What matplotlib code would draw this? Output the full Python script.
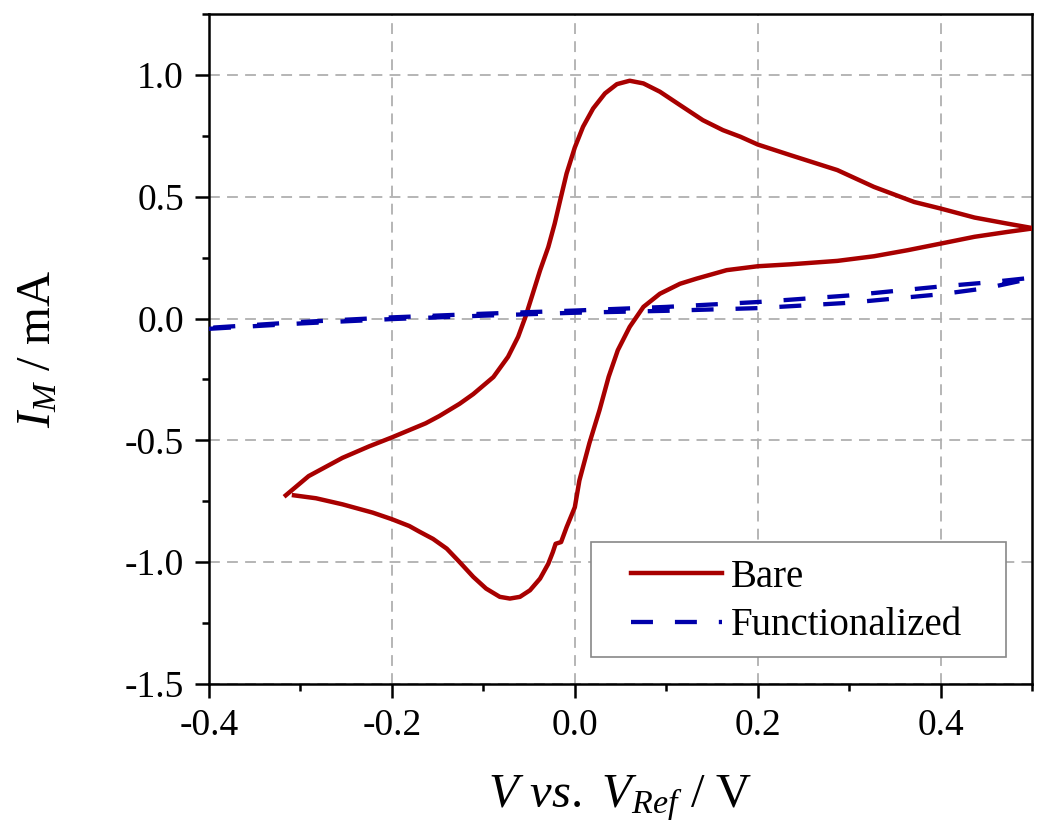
import numpy as np
import matplotlib
matplotlib.use("Agg")
import matplotlib.pyplot as plt
from matplotlib.patches import Rectangle
from matplotlib.ticker import MultipleLocator

plt.rcParams['font.family'] = ['Liberation Serif', 'DejaVu Serif']
plt.rcParams['mathtext.fontset'] = 'custom'
plt.rcParams['mathtext.rm'] = 'Liberation Serif'
plt.rcParams['mathtext.it'] = 'Liberation Serif:italic'
plt.rcParams['axes.unicode_minus'] = False

# bare electrode: forward scan (upper branch), left vertex -> right vertex
bare_fwd_v = [-0.316, -0.291, -0.254, -0.225, -0.200, -0.163, -0.148, -0.126, -0.111,
              -0.089, -0.073, -0.062, -0.054, -0.046, -0.038, -0.029, -0.022, -0.016,
              -0.009, 0.000, 0.009, 0.020, 0.033, 0.046, 0.060, 0.075, 0.093, 0.115,
              0.140, 0.162, 0.181, 0.200, 0.236, 0.287, 0.327, 0.371, 0.400, 0.437,
              0.473, 0.500]
bare_fwd_i = [-0.726, -0.647, -0.572, -0.525, -0.488, -0.430, -0.400, -0.350, -0.310,
              -0.240, -0.157, -0.075, 0.007, 0.102, 0.198, 0.294, 0.390, 0.486,
              0.596, 0.703, 0.788, 0.863, 0.925, 0.963, 0.977, 0.966, 0.932, 0.877,
              0.815, 0.774, 0.747, 0.715, 0.671, 0.610, 0.541, 0.479, 0.452, 0.415,
              0.390, 0.372]

# bare electrode: reverse scan (lower branch), right vertex -> left end
bare_rev_v = [0.500, 0.473, 0.437, 0.400, 0.364, 0.327, 0.287, 0.236, 0.200, 0.166,
              0.133, 0.115, 0.093, 0.075, 0.060, 0.047, 0.037, 0.027, 0.016, 0.005,
              0.000, -0.009, -0.015, -0.021, -0.024, -0.029, -0.038, -0.049, -0.060,
              -0.071, -0.082, -0.097, -0.111, -0.126, -0.140, -0.155, -0.170, -0.181,
              -0.200, -0.221, -0.254, -0.283, -0.307]
bare_rev_i = [0.370, 0.356, 0.336, 0.308, 0.281, 0.256, 0.237, 0.223, 0.215, 0.199,
              0.164, 0.143, 0.102, 0.048, -0.034, -0.130, -0.239, -0.376, -0.511, -0.665,
              -0.775, -0.857, -0.918, -0.925, -0.959, -1.007, -1.068, -1.116, -1.143,
              -1.150, -1.143, -1.109, -1.061, -1.000, -0.945, -0.905, -0.875, -0.852,
              -0.824, -0.797, -0.763, -0.738, -0.726]

# functionalized electrode
func_v = [-0.40, -0.30, -0.20, -0.10, 0.00, 0.10, 0.20, 0.30, 0.40, 0.45, 0.50]
func_fwd_i = [-0.042, -0.020, -0.002, 0.012, 0.024, 0.032, 0.043, 0.065, 0.100, 0.125, 0.165]
func_rev_i = [-0.038, -0.014, 0.005, 0.020, 0.033, 0.048, 0.068, 0.095, 0.132, 0.148, 0.168]

red = '#A80000'
blue = '#0000AA'

fig = plt.figure(figsize=(10.5, 8.4), dpi=100)
ax = fig.add_axes([0.199, 0.186, 0.784, 0.797])

ax.plot(bare_fwd_v + bare_rev_v, bare_fwd_i + bare_rev_i, color=red, lw=3.2,
        solid_joinstyle='round', label='Bare', zorder=3)
ax.plot(func_v + func_v[::-1], func_fwd_i + func_rev_i[::-1], color=blue, lw=3.1,
        dashes=(5.1, 5.1), label='Functionalized', zorder=3)

ax.set_xlim(-0.4, 0.5)
ax.set_ylim(-1.5, 1.25)
ax.xaxis.set_major_locator(MultipleLocator(0.2))
ax.xaxis.set_minor_locator(MultipleLocator(0.1))
ax.yaxis.set_major_locator(MultipleLocator(0.5))
ax.yaxis.set_minor_locator(MultipleLocator(0.25))
ax.xaxis.set_major_formatter(plt.FormatStrFormatter('%.1f'))
ax.yaxis.set_major_formatter(plt.FormatStrFormatter('%.1f'))

ax.grid(True, which='major', color='#B0B0B0', lw=1.3, linestyle=(0, (6, 4)))
ax.set_axisbelow(True)

for s in ax.spines.values():
    s.set_linewidth(1.8)
ax.tick_params(which='major', direction='out', length=10, width=1.8,
               labelsize=27, pad=8)
ax.tick_params(which='minor', direction='out', length=5, width=1.8)

ax.set_xlabel('$V$ $vs.$ $V_{Ref}$ / V', fontsize=35, labelpad=22)
ax.set_ylabel('$I_M$ / mA', fontsize=35, labelpad=46)

# legend box drawn separately so the padding matches the original
ax.add_patch(Rectangle((0.464, 0.040), 0.504, 0.172, transform=ax.transAxes,
                       facecolor='white', edgecolor='#888888', lw=1.2, zorder=4))
leg = ax.legend(loc='center left', bbox_to_anchor=(0.5128, 0.123), borderaxespad=0,
                fontsize=28, frameon=False, borderpad=0,
                handlelength=2.34, handletextpad=0.23, labelspacing=0.3)
leg.set_zorder(5)

fig.savefig('out.png', dpi=100)
